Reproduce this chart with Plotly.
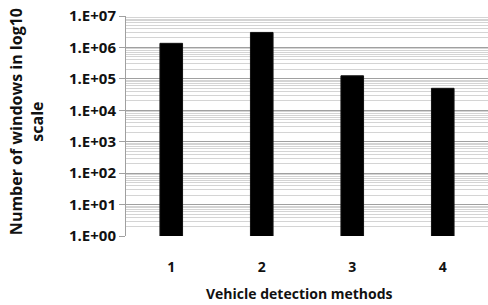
import plotly.graph_objects as go

methods = ["1", "2", "3", "4"]
windows = [1.35e6, 3.0e6, 1.25e5, 5.0e4]
ytick_vals = [1e0, 1e1, 1e2, 1e3, 1e4, 1e5, 1e6, 1e7]
ytick_text = ["1.E+00", "1.E+01", "1.E+02", "1.E+03", "1.E+04", "1.E+05", "1.E+06", "1.E+07"]
x_title = "Vehicle detection methods"
y_title = "Number of windows in log10<br>scale"

minor_vals = [k * 10 ** n for n in range(0, 7) for k in range(2, 10)]

fig = go.Figure()
fig.add_trace(go.Bar(
    x=[1, 2, 3, 4], y=windows, width=0.25,
    marker=dict(color="black", line=dict(color="#111", width=1)),
))

fnt = dict(family="Open Sans, Liberation Sans, sans-serif", size=14, color="#111")
fig.update_layout(
    width=488, height=305,
    margin=dict(l=126, r=0, t=16, b=69),
    paper_bgcolor="white", plot_bgcolor="white",
    showlegend=False,
    font=fnt,
    xaxis=dict(
        range=[0.5, 4.5], automargin=False,
        tickvals=[1, 2, 3, 4], ticktext=[f"<b>{m}</b>" for m in methods],
        showgrid=False, zeroline=False, showline=False,
        ticks="outside", ticklen=18, tickcolor="rgba(0,0,0,0)",
        tickfont=dict(size=14),
    ),
    yaxis=dict(
        type="log", range=[0, 7], automargin=False,
        tickvals=ytick_vals, ticktext=[f"<b>{t}</b>" for t in ytick_text],
        showgrid=True, gridcolor="#a0a0a0", gridwidth=1,
        minor=dict(tickvals=minor_vals, showgrid=True, gridcolor="#d4d4d4", gridwidth=1, ticks=""),
        showline=True, linecolor="#a0a0a0", linewidth=1,
        ticks="outside", ticklen=6, tickcolor="#a0a0a0",
        tickfont=dict(size=15), ticklabeloverflow="allow",
        zeroline=False,
    ),
    annotations=[
        dict(text=f"<b>{x_title}</b>", xref="paper", yref="paper", x=0.48, y=-0.21,
             xanchor="center", yanchor="top", showarrow=False, font=dict(size=14)),
        dict(text=f"<b>{y_title}</b>", xref="paper", yref="paper", x=-0.276, y=0.518,
             xanchor="center", yanchor="middle", showarrow=False, textangle=-90,
             font=dict(size=16)),
    ],
)
fig.write_html("out.html", config={"displayModeBar": False},
               post_script="document.body.style.margin='0';")
